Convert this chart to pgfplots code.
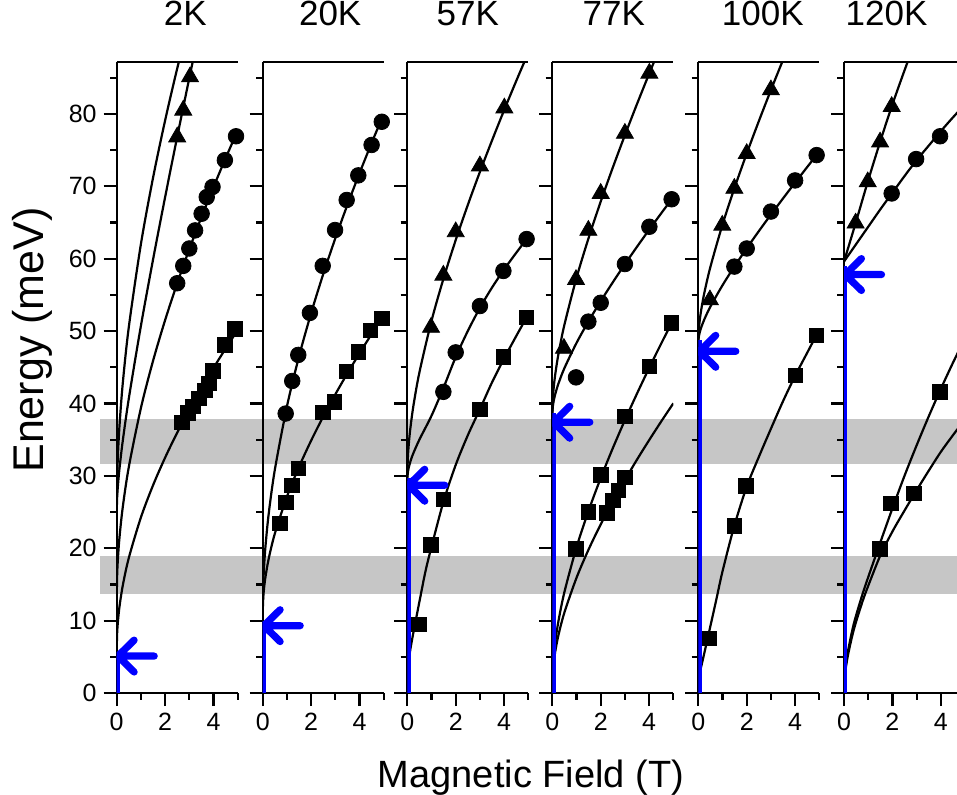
\documentclass[border=0pt]{standalone}
\usepackage{pgfplots}
\pgfplotsset{compat=1.18}
\usepackage{fontspec}
\setmainfont{Liberation Sans}
\definecolor{bandgray}{RGB}{198,198,198}
\pgfplotsset{
 panel/.style={
  scale only axis, width=60.5pt, height=315.65pt,
  xmin=0, xmax=5, ymin=0, ymax=87.2,
  axis x line=box, axis y line=left,
  y axis line style={-}, x axis line style={-},
  axis line style={line width=1.1pt},
  tick align=outside,
  xtick={0,2,4}, minor xtick={1,3,5},
  ytick={0,10,...,80}, minor ytick={5,15,...,85},
  major tick length=6.5pt, minor tick length=3.3pt,
  every tick/.style={black, line width=1.1pt},
  xtick pos=left, ytick pos=left,
  tick label style={font=\fontsize{12.5}{14}\selectfont},
  /pgf/number format/assume math mode=true,
  yticklabels={},
  title style={font=\fontsize{17.5}{20}\selectfont, at={(0.5,1)}, anchor=base, yshift=11.85pt},
  anchor=south west,
 },
 curve/.style={black, line width=1.1pt, smooth, no markers},
 sq/.style={only marks, mark=square*, mark size=3.6pt, black},
 ci/.style={only marks, mark=*, mark size=3.9pt, black},
 tr/.style={only marks, mark=triangle*, mark size=4.9pt, black},
 blueline/.style={blue, line width=2pt, no markers},
}
\newcommand{\blarrow}[3]{\draw[blue,line width=3.6pt,line cap=round,line join=round] (axis cs:1.55,#1) -- (axis cs:0.05,#1) (axis cs:0.72,#2) -- (axis cs:0.05,#1) -- (axis cs:0.72,#3);}
\begin{document}
\begin{tikzpicture}
% background bands
\begin{axis}[panel, hide axis, clip=false, at={(0pt,0pt)}]
\fill[bandgray] (axis cs:-0.69,13.7) rectangle (axis cs:34.72,18.9);
\fill[bandgray] (axis cs:-0.69,31.7) rectangle (axis cs:34.72,37.8);
\end{axis}
% ---------- 2K
\begin{axis}[panel, at={(0pt,0pt)}, title={2K}, title style={xshift=4pt}, yticklabels={0,10,20,30,40,50,60,70,80}]
\addplot[curve] coordinates {(0,25)(0.02,29.87)(0.06,33.51)(0.12,37.14)(0.25,42.75)(0.5,50.54)(1,62)(1.5,71.14)(2,79.08)(2.5,86.26)(3,92.89)};
\addplot[curve] coordinates {(0,25)(0.02,27.16)(0.06,29.05)(0.12,31.16)(0.25,34.82)(0.5,40.67)(1,50.71)(1.5,59.84)(2,68.48)(2.5,76.82)(3,84.94)(3.5,92.9)};
\addplot[curve] coordinates {(0,13)(0.02,16.47)(0.06,19.07)(0.12,21.66)(0.25,25.66)(0.5,31.21)(1,39.36)(1.5,45.86)(2,51.5)(2.5,56.59)(3,61.3)(3.5,65.7)(4,69.88)(4.5,73.87)(5,77.69)};
\addplot[curve] coordinates {(0,6)(0.02,8.43)(0.06,10.25)(0.12,12.05)(0.25,14.83)(0.5,18.66)(1,24.25)(1.5,28.68)(2,32.51)(2.5,35.96)(3,39.13)(3.5,42.1)(4,44.9)(4.5,47.57)(5,50.13)};
\addplot[tr] coordinates {(2.5,76.8)(2.75,80.5)(3.03,85.1)};
\addplot[ci] coordinates {(2.5,56.6)(2.75,59.0)(3.0,61.4)(3.24,63.9)(3.51,66.2)(3.72,68.5)(3.96,69.9)(4.47,73.6)(4.93,76.9)};
\addplot[sq] coordinates {(2.7,37.4)(2.95,38.7)(3.15,39.6)(3.4,40.7)(3.65,41.8)(3.81,42.8)(3.98,44.5)(4.47,48.1)(4.89,50.3)};
\addplot[blueline] coordinates {(0.06,0)(0.06,5.1)};
\blarrow{5.1}{7.3}{2.9}
\end{axis}
% ---------- 20K
\begin{axis}[panel, at={(73pt,0pt)}, title={20K}, title style={xshift=3.5pt}]
\addplot[curve] coordinates {(0,11)(0.02,14.82)(0.06,17.65)(0.12,20.47)(0.25,24.81)(0.5,30.81)(1,39.55)(1.5,46.48)(2,52.46)(2.5,57.85)(3,62.8)(3.5,67.43)(4,71.8)(4.5,75.97)(5,79.95)};
\addplot[curve] coordinates {(0,11)(0.02,13.05)(0.06,14.6)(0.12,16.15)(0.25,18.59)(0.5,22.0)(1,27.1)(1.5,31.23)(2,34.86)(2.5,38.17)(3,41.25)(3.5,44.15)(4,46.92)(4.5,49.58)(5,52.14)};
\addplot[ci] coordinates {(0.95,38.6)(1.22,43.1)(1.47,46.7)(1.95,52.5)(2.48,59.0)(2.99,63.95)(3.47,68.1)(3.95,71.5)(4.5,75.7)(4.92,78.9)};
\addplot[sq] coordinates {(0.71,23.4)(0.96,26.3)(1.2,28.7)(1.47,31.0)(2.48,38.8)(2.96,40.2)(3.47,44.4)(3.95,47.1)(4.46,50.1)(4.92,51.75)};
\addplot[blueline] coordinates {(0.06,0)(0.06,10)};
\blarrow{9.3}{11.5}{7.1}
\end{axis}
% ---------- 57K
\begin{axis}[panel, at={(145.3pt,0pt)}, title={57K}, title style={xshift=0pt}]
\addplot[curve] coordinates {(0,29.7)(0.02,32.32)(0.06,34.33)(0.12,36.38)(0.25,39.63)(0.5,44.28)(1,51.4)(1.5,57.29)(2,62.56)(2.5,67.41)(3,71.98)(3.5,76.32)(4,80.5)(4.5,84.53)(5,88.45)};
\addplot[curve] coordinates {(0,29.7)(0.05,31.0)(0.2,32.7)(0.5,35.0)(1.0,38.3)(1.5,42.2)(2,46.4)(2.5,50.0)(3,53.2)(3.5,56.0)(4,58.5)(4.5,60.8)(5,63.0)};
\addplot[curve] coordinates {(0,0)(0.02,2.5)(0.06,4.5)(0.15,6.5)(0.3,9.2)(0.5,12.6)(0.75,16.8)(1.0,20.2)(1.5,26.5)(2,31.5)(2.5,35.6)(3,39.2)(3.5,42.9)(4,46.2)(4.5,49.3)(5,52.3)};
\addplot[tr] coordinates {(0.98,50.5)(1.49,57.7)(2.0,63.7)(3.0,72.8)(4.01,80.8)};
\addplot[ci] coordinates {(1.49,41.6)(2.0,47.05)(3.0,53.45)(3.97,58.3)(4.93,62.7)};
\addplot[sq] coordinates {(0.48,9.5)(0.98,20.45)(1.49,26.75)(3.0,39.2)(3.97,46.45)(4.93,51.9)};
\addplot[blueline] coordinates {(0.06,0)(0.06,29.7)};
\blarrow{28.7}{30.9}{26.5}
\end{axis}
% ---------- 77K
\begin{axis}[panel, at={(217.8pt,0pt)}, title={77K}, title style={xshift=0.5pt}]
\addplot[curve] coordinates {(0,38.5)(0.02,40.59)(0.06,42.25)(0.12,43.97)(0.25,46.76)(0.5,50.86)(1,57.34)(1.5,62.85)(2,67.88)(2.5,72.58)(3,77.05)(3.5,81.36)(4,85.52)(4.5,89.58)};
\addplot[curve] coordinates {(0,38.5)(0.02,39.54)(0.06,40.37)(0.12,41.26)(0.25,42.7)(0.5,44.87)(1,48.35)(1.5,51.36)(2,54.12)(2.5,56.73)(3,59.23)(3.5,61.64)(4,63.98)(4.5,66.26)(5,68.51)};
\addplot[curve] coordinates {(0,1)(0.02,3.36)(0.06,5.16)(0.12,6.99)(0.25,9.86)(0.5,13.94)(1,20.12)(1.5,25.19)(2,29.69)(2.5,33.82)(3,37.69)(3.5,41.36)(4,44.88)(4.5,48.27)(5,51.55)};
\addplot[curve] coordinates {(0,1)(0.02,2.86)(0.06,4.27)(0.12,5.7)(0.25,7.94)(0.5,11.12)(1,15.91)(1.5,19.83)(2,23.29)(2.5,26.46)(3,29.42)(3.5,32.24)(4,34.92)(4.5,37.51)(5,40.01)};
\addplot[tr] coordinates {(0.48,47.6)(0.98,57.1)(1.49,63.9)(2.0,69.0)(3.0,77.3)(4.01,85.6)};
\addplot[ci] coordinates {(0.98,43.6)(1.49,51.3)(2.0,53.9)(3.0,59.25)(4.01,64.4)(4.93,68.2)};
\addplot[sq] coordinates {(0.98,19.9)(1.49,25.0)(2.0,30.1)(3.0,38.2)(4.01,45.1)(4.93,51.1)(2.25,24.9)(2.5,26.6)(2.73,28.0)(3.0,29.8)};
\addplot[blueline] coordinates {(0.06,0)(0.06,38.7)};
\blarrow{37.4}{39.6}{35.2}
\end{axis}
% ---------- 100K
\begin{axis}[panel, at={(290.8pt,0pt)}, title={100K}, title style={xshift=2pt}]
\addplot[curve] coordinates {(0,48.5)(0.02,50.15)(0.06,51.49)(0.12,52.92)(0.25,55.28)(0.5,58.86)(1,64.7)(1.5,69.8)(2,74.51)(2.5,78.98)(3,83.28)(3.5,87.44)(4,91.5)};
\addplot[curve] coordinates {(0,48.5)(0.02,49.22)(0.06,49.83)(0.12,50.49)(0.25,51.62)(0.5,53.37)(1,56.32)(1.5,58.95)(2,61.42)(2.5,63.79)(3,66.08)(3.5,68.31)(4,70.5)(4.5,72.65)(5,74.78)};
\addplot[curve] coordinates {(0,0)(0.05,2.5)(0.2,4.8)(0.45,8.5)(0.75,13.0)(1.0,16.8)(1.48,23.0)(2.0,28.5)(2.5,32.6)(3.0,36.5)(3.5,40.3)(4.0,43.8)(4.5,47.0)(5.0,50.2)};
\addplot[tr] coordinates {(0.48,54.3)(0.99,64.6)(1.49,69.7)(2.0,74.5)(3.0,83.3)};
\addplot[ci] coordinates {(1.49,58.9)(2.0,61.4)(3.0,66.5)(4.0,70.8)(4.89,74.3)};
\addplot[sq] coordinates {(0.45,7.55)(1.48,23.1)(1.96,28.6)(4.0,43.9)(4.89,49.4)};
\addplot[blueline] coordinates {(0.06,0)(0.06,48.7)};
\blarrow{47.2}{49.4}{45.0}
\end{axis}
% ---------- 120K
\begin{axis}[panel, at={(363.65pt,0pt)}, title={120K}, title style={xshift=-7pt}, width=56.5pt, xmax=4.67, minor xtick={1,3}]
\addplot[curve] coordinates {(0,59.6)(0.48,64.9)(0.98,70.6)(1.49,76.1)(1.97,81.0)(2.5,86.0)(3,90.5)};
\addplot[curve] coordinates {(0,59.6)(0.5,62.0)(1,64.4)(1.5,66.8)(2,69.1)(2.5,71.4)(3,73.6)(3.5,75.6)(4,77.6)(4.5,79.5)(5,81.3)};
\addplot[curve] coordinates {(0,0)(0.03,2.5)(0.15,5.5)(0.4,9.5)(0.75,13.5)(1.0,16.0)(1.5,20.8)(2.0,25.5)(2.5,30.0)(3.0,34.2)(3.5,38.2)(4.0,42.0)(4.5,45.6)(5,49)};
\addplot[curve] coordinates {(0,0)(0.03,2.3)(0.15,5.0)(0.4,8.7)(0.75,12.5)(1.0,14.8)(1.5,19.0)(2.0,22.3)(2.5,25.2)(3.0,28.0)(3.5,30.7)(4.0,33.3)(4.5,35.6)(5,37.8)};
\addplot[tr] coordinates {(0.48,64.9)(0.98,70.6)(1.49,76.1)(1.97,81.0)};
\addplot[ci] coordinates {(1.97,69.0)(2.98,73.75)(3.97,76.9)};
\addplot[sq] coordinates {(1.49,19.9)(1.94,26.2)(2.89,27.6)(3.97,41.6)};
\addplot[blueline] coordinates {(0.06,0)(0.06,59)};
\blarrow{57.8}{60.0}{55.6}
\end{axis}
\node[font=\fontsize{19}{22}\selectfont, anchor=base] at (207.15pt,-47pt) {Magnetic Field (T)};
\node[font=\fontsize{21.5}{24}\selectfont, anchor=base, rotate=90] at (-36.5pt,176.5pt) {Energy (meV)};
\pgfresetboundingbox
\path[use as bounding box] (-58.35pt,-50.5pt) rectangle (420.15pt,346.5pt);
\end{tikzpicture}
\end{document}
